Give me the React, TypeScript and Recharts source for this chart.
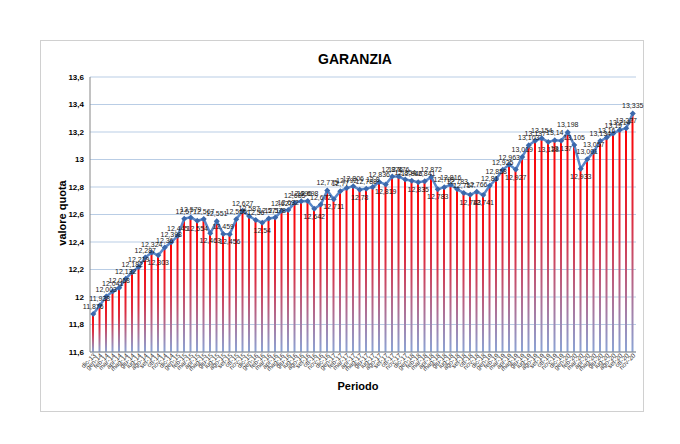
import React from "react";
import {
  ComposedChart,
  Bar,
  Line,
  XAxis,
  YAxis,
  CartesianGrid,
  LabelList,
} from "recharts";

// Periodi (mesi) sull'asse X
const periodi: string[] = [
  "dic-13",
  "gen-14", "feb-14", "mar-14", "apr-14", "mag-14", "giu-14", "lug-14", "ago-14", "set-14", "ott-14", "nov-14", "dic-14",
  "gen-15", "feb-15", "mar-15", "apr-15", "mag-15", "giu-15", "lug-15", "ago-15", "set-15", "ott-15", "nov-15", "dic-15",
  "gen-16", "feb-16", "mar-16", "apr-16", "mag-16", "giu-16", "lug-16", "ago-16", "set-16", "ott-16", "nov-16", "dic-16",
  "gen-17", "feb-17", "mar-17", "apr-17", "mag-17", "giu-17", "lug-17", "ago-17", "set-17", "ott-17", "nov-17", "dic-17",
  "gen-18", "feb-18", "mar-18", "apr-18", "mag-18", "giu-18", "lug-18", "ago-18", "set-18", "ott-18", "nov-18", "dic-18",
  "gen-19", "feb-19", "mar-19", "apr-19", "mag-19", "giu-19", "lug-19", "ago-19", "set-19", "ott-19", "nov-19", "dic-19",
  "gen-20", "feb-20", "mar-20", "apr-20", "mag-20", "giu-20", "lug-20", "ago-20", "set-20", "ott-20", "nov-20",
];

// Valore quota per periodo
const valoriQuota: number[] = [
  11.876, 11.938, 12.003, 12.041, 12.068, 12.132, 12.182, 12.219, 12.287, 12.324,
  12.303, 12.36, 12.398, 12.445, 12.57, 12.579, 12.554, 12.567, 12.463, 12.551,
  12.459, 12.456, 12.566, 12.627, 12.587, 12.56, 12.54, 12.571, 12.578, 12.627,
  12.632, 12.685, 12.696, 12.698, 12.642, 12.672, 12.775, 12.711, 12.77, 12.792,
  12.806, 12.78, 12.788, 12.8, 12.836, 12.819, 12.876, 12.876, 12.854, 12.846,
  12.835, 12.841, 12.872, 12.783, 12.799, 12.816, 12.783, 12.757, 12.743, 12.766,
  12.741, 12.81, 12.858, 12.925, 12.963, 12.927, 13.019, 13.103, 13.137, 13.154,
  13.128, 13.14, 13.137, 13.198, 13.105, 12.933, 13.001, 13.057, 13.134, 13.16,
  13.19, 13.214, 13.227, 13.335,
];

const yTicks: number[] = [11.6, 11.8, 12, 12.2, 12.4, 12.6, 12.8, 13, 13.2, 13.4, 13.6];

const font = "'Liberation Sans', Arial, sans-serif";

const virgola = (v: number | string) => String(v).replace(".", ",");

const PeriodoTick = (props: any) => {
  const { x, y, payload } = props;
  const tx = x + 3;
  const ty = y + 4;
  return (
    <text
      x={tx}
      y={ty}
      transform={`rotate(-45 ${tx} ${ty})`}
      textAnchor="end"
      fontSize={6.5}
      fontFamily={font}
      fill="#303030"
    >
      {payload.value}
    </text>
  );
};

const Rombo = (props: any) => {
  const { cx, cy, index } = props;
  if (cx == null || cy == null) return <g key={`r-${index}`} />;
  const s = 3;
  return (
    <path
      key={`r-${index}`}
      d={`M${cx},${cy - s}L${cx + s},${cy}L${cx},${cy + s}L${cx - s},${cy}Z`}
      fill="#3b68ab"
    />
  );
};

const EtichettaValore = (props: any) => {
  const { x, y, value, index } = props;
  const prev = valoriQuota[index - 1];
  const next = valoriQuota[index + 1];
  // i minimi locali hanno l'etichetta sotto
  const sotto = prev !== undefined && next !== undefined && value < prev && value < next;
  return (
    <text
      x={x}
      y={sotto ? y + 10 : y - 5}
      textAnchor="middle"
      fontSize={7}
      fontFamily={font}
      fill="#1a1a1a"
    >
      {virgola(value)}
    </text>
  );
};

function App() {
  const data = periodi.map((p, i) => ({ periodo: p, quota: valoriQuota[i] }));

  return (
    <div style={{ position: "absolute", left: 0, top: 0, width: 680, height: 444, background: "#fff" }}>
      <svg width={0} height={0} style={{ position: "absolute" }}>
        <defs>
          <linearGradient id="rossoBlu" x1="0" y1="0" x2="0" y2="1">
            <stop offset="0%" stopColor="#ff0000" />
            <stop offset="45%" stopColor="#dc2e42" />
            <stop offset="100%" stopColor="#8aa4d6" />
          </linearGradient>
        </defs>
      </svg>
      <div
        style={{
          position: "absolute",
          left: 40,
          top: 40,
          width: 604,
          height: 372,
          border: "1px solid #d0d0d0",
          boxSizing: "border-box",
        }}
      />
      <div
        style={{
          position: "absolute",
          left: 255,
          width: 200,
          top: 51,
          textAlign: "center",
          fontFamily: font,
          fontWeight: "bold",
          fontSize: 14,
          color: "#000",
        }}
      >
        GARANZIA
      </div>
      <div
        style={{
          position: "absolute",
          left: 12,
          top: 207,
          width: 100,
          textAlign: "center",
          transform: "rotate(-90deg)",
          fontFamily: font,
          fontWeight: "bold",
          fontSize: 11,
          color: "#000",
        }}
      >
        valore quota
      </div>
      <div
        style={{
          position: "absolute",
          left: 308,
          width: 100,
          top: 380,
          textAlign: "center",
          fontFamily: font,
          fontWeight: "bold",
          fontSize: 11,
          color: "#000",
        }}
      >
        Periodo
      </div>
      <div style={{ position: "absolute", left: 0, top: 0 }}>
        <ComposedChart
          width={680}
          height={444}
          data={data}
          margin={{ top: 77, right: 44, bottom: 52, left: 40 }}
          barCategoryGap={0}
        >
          <CartesianGrid vertical={false} stroke="#b9cde5" strokeWidth={1} />
          <XAxis
            dataKey="periodo"
            interval={0}
            height={40}
            tickSize={0}
            tickMargin={0}
            tickLine={false}
            axisLine={{ stroke: "#868686" }}
            tick={<PeriodoTick />}
          />
          <YAxis
            type="number"
            domain={[11.6, 13.6]}
            ticks={yTicks}
            width={50}
            tickSize={0}
            tickMargin={6}
            tickLine={false}
            axisLine={{ stroke: "#868686" }}
            tickFormatter={(v: number) => virgola(v)}
            tick={{ fontSize: 8, fontWeight: "bold", fill: "#000", fontFamily: font }}
          />
          <Bar dataKey="quota" barSize={2} fill="url(#rossoBlu)" isAnimationActive={false} />
          <Line
            type="linear"
            dataKey="quota"
            stroke="#5a88c9"
            strokeWidth={2.5}
            dot={Rombo}
            activeDot={false}
            isAnimationActive={false}
          >
            <LabelList dataKey="quota" content={<EtichettaValore />} />
          </Line>
        </ComposedChart>
      </div>
    </div>
  );
}

export default App;
